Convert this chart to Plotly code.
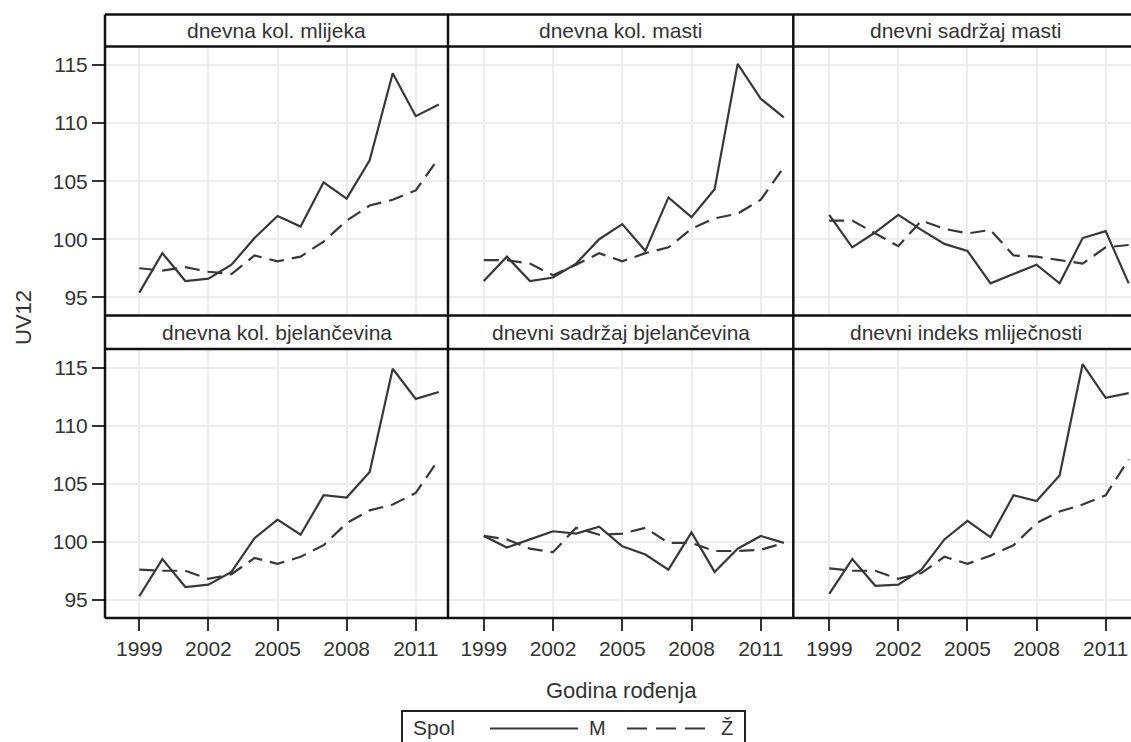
import plotly.graph_objects as go

# ---------------- data ----------------
years = list(range(1999, 2013))
panel_titles = [
    "dnevna kol. mlijeka", "dnevna kol. masti", "dnevni sadržaj masti",
    "dnevna kol. bjelančevina", "dnevni sadržaj bjelančevina", "dnevni indeks mliječnosti",
]
series_names = ["M", "Ž"]

m_kol_mlijeka = [95.4, 98.8, 96.4, 96.6, 97.8, 100.1, 102.0, 101.1, 104.9, 103.5, 106.8, 114.3, 110.6, 111.6]
z_kol_mlijeka = [97.5, 97.3, 97.6, 97.2, 97.0, 98.6, 98.1, 98.5, 99.8, 101.6, 102.9, 103.4, 104.2, 107.0]

m_kol_masti = [96.4, 98.5, 96.4, 96.7, 97.9, 100.0, 101.3, 99.0, 103.6, 101.9, 104.3, 115.1, 112.1, 110.5]
z_kol_masti = [98.2, 98.2, 97.9, 96.9, 97.8, 98.8, 98.1, 98.8, 99.3, 100.9, 101.8, 102.2, 103.4, 106.2]

m_sadrzaj_masti = [102.1, 99.3, 100.6, 102.1, 100.8, 99.6, 99.0, 96.2, 97.0, 97.8, 96.2, 100.1, 100.7, 96.2]
z_sadrzaj_masti = [101.6, 101.6, 100.5, 99.4, 101.6, 100.9, 100.5, 100.8, 98.6, 98.5, 98.2, 97.9, 99.3, 99.5]

m_kol_bjel = [95.3, 98.5, 96.1, 96.3, 97.4, 100.3, 101.9, 100.6, 104.0, 103.8, 106.0, 114.9, 112.3, 112.9]
z_kol_bjel = [97.6, 97.5, 97.5, 96.8, 97.2, 98.6, 98.1, 98.7, 99.7, 101.6, 102.7, 103.2, 104.2, 107.1]

m_sadrzaj_bjel = [100.5, 99.5, 100.2, 100.9, 100.7, 101.3, 99.6, 98.9, 97.6, 100.8, 97.4, 99.4, 100.5, 99.9]
z_sadrzaj_bjel = [100.5, 100.2, 99.4, 99.1, 101.2, 100.6, 100.7, 101.2, 99.9, 99.9, 99.2, 99.2, 99.3, 99.9]

m_indeks = [95.5, 98.5, 96.2, 96.3, 97.6, 100.2, 101.8, 100.4, 104.0, 103.5, 105.7, 115.3, 112.4, 112.8]
z_indeks = [97.7, 97.5, 97.5, 96.8, 97.3, 98.7, 98.1, 98.8, 99.7, 101.6, 102.6, 103.2, 104.0, 107.1]

m_series = [m_kol_mlijeka, m_kol_masti, m_sadrzaj_masti, m_kol_bjel, m_sadrzaj_bjel, m_indeks]
z_series = [z_kol_mlijeka, z_kol_masti, z_sadrzaj_masti, z_kol_bjel, z_sadrzaj_bjel, z_indeks]

x_tick_vals = [1999, 2002, 2005, 2008, 2011]
y_tick_vals = [95, 100, 105, 110, 115]

x_title = "Godina rođenja"
y_title = "UV12"
legend_title = "Spol"

# ---------------- layout geometry (pixels) ----------------
W, H = 1131, 742
def px(x):
    return x / W
def py(y):
    return 1 - y / H

col_px = [(105, 448), (448, 793.3), (793.3, 1131)]
col_full_right = [448, 793.3, 1138]           # third panel is cropped at image edge
x_ranges = [[1997.51, 2012.40], [1997.45, 2012.41], [1997.44, 2012.10]]
head_px = [(14.5, 46.5), (315.5, 349)]
plot_px = [(46.5, 315.5), (349, 618)]
y_range = [93.43, 116.6]

FONT = "Liberation Sans, Arial, sans-serif"
TXT = "#333333"
LINE = "#383838"

fig = go.Figure()
layout = dict(
    width=W, height=H, margin=dict(l=0, r=0, t=0, b=0),
    paper_bgcolor="white", plot_bgcolor="white", showlegend=False,
    font=dict(family=FONT, size=21, color=TXT),
)

annotations = []
shapes = []

for i in range(6):
    r, c = divmod(i, 3)
    sfx = "" if i == 0 else str(i + 1)
    xa = dict(
        domain=[px(col_px[c][0]), px(col_px[c][1])], range=x_ranges[c],
        anchor="y" + sfx, showline=False, zeroline=False,
        showgrid=True, gridcolor="#ececec", gridwidth=2,
        tickvals=x_tick_vals, ticktext=[str(v) for v in x_tick_vals],
        ticks="outside" if r == 1 else "", ticklen=12, tickwidth=2, tickcolor="#333333",
        showticklabels=(r == 1), tickfont=dict(size=21, color=TXT, family=FONT),
        fixedrange=True,
    )
    ya = dict(
        domain=[py(plot_px[r][1]), py(plot_px[r][0])], range=y_range,
        anchor="x" + sfx, showline=False, zeroline=False,
        showgrid=True, gridcolor="#ececec", gridwidth=2,
        tickvals=y_tick_vals, ticktext=[str(v) for v in y_tick_vals],
        ticks="outside" if c == 0 else "", ticklen=12, tickwidth=2, tickcolor="#333333",
        showticklabels=(c == 0), tickfont=dict(size=21, color=TXT, family=FONT),
        fixedrange=True,
    )
    layout["xaxis" + sfx] = xa
    layout["yaxis" + sfx] = ya

    fig.add_trace(go.Scatter(
        x=years, y=m_series[i], mode="lines", name=series_names[0],
        line=dict(color=LINE, width=2.2), xaxis="x" + sfx, yaxis="y" + sfx,
    ))
    fig.add_trace(go.Scatter(
        x=years, y=z_series[i], mode="lines", name=series_names[1],
        line=dict(color=LINE, width=2.2, dash="15px,8px"), xaxis="x" + sfx, yaxis="y" + sfx,
    ))

    # header strip title
    cx = (col_px[c][0] + col_full_right[c]) / 2
    cy = (head_px[r][0] + head_px[r][1]) / 2
    annotations.append(dict(
        text=panel_titles[i], x=px(cx), y=py(cy), xref="paper", yref="paper",
        xanchor="center", yanchor="middle", showarrow=False,
        font=dict(size=21, color=TXT, family=FONT),
    ))

# borders
BL = dict(color="#111111", width=2.5)
for yy in [14.5, 46.5, 315.5, 349, 618]:
    shapes.append(dict(type="line", xref="paper", yref="paper",
                       x0=px(105), x1=px(1140), y0=py(yy), y1=py(yy), line=BL))
for xx in [105, 448, 793.3]:
    shapes.append(dict(type="line", xref="paper", yref="paper",
                       x0=px(xx), x1=px(xx), y0=py(14.5), y1=py(618), line=BL))

# axis titles
annotations.append(dict(text=x_title, x=px(621), y=py(690), xref="paper", yref="paper",
                        xanchor="center", yanchor="middle", showarrow=False,
                        font=dict(size=22, color=TXT, family=FONT)))
annotations.append(dict(text=y_title, x=px(23), y=py(318), xref="paper", yref="paper",
                        xanchor="center", yanchor="middle", showarrow=False, textangle=-90,
                        font=dict(size=22, color=TXT, family=FONT)))

# legend (drawn manually, cropped at bottom like the reference)
shapes.append(dict(type="rect", xref="paper", yref="paper",
                   x0=px(402), x1=px(745), y0=py(765), y1=py(711),
                   line=dict(color="#222222", width=2), fillcolor="rgba(0,0,0,0)"))
ly = 727.5
annotations.append(dict(text=legend_title, x=px(411), y=py(ly), xref="paper", yref="paper",
                        xanchor="left", yanchor="middle", showarrow=False,
                        font=dict(size=21, color=TXT, family=FONT)))
shapes.append(dict(type="line", xref="paper", yref="paper", x0=px(490), x1=px(578),
                   y0=py(ly + 1), y1=py(ly + 1), line=dict(color=LINE, width=2)))
annotations.append(dict(text=series_names[0], x=px(597), y=py(ly), xref="paper", yref="paper",
                        xanchor="center", yanchor="middle", showarrow=False,
                        font=dict(size=20, color=TXT, family=FONT)))
shapes.append(dict(type="line", xref="paper", yref="paper", x0=px(627), x1=px(705),
                   y0=py(ly + 1), y1=py(ly + 1), line=dict(color=LINE, width=2, dash="20px,9px")))
annotations.append(dict(text=series_names[1], x=px(727), y=py(ly), xref="paper", yref="paper",
                        xanchor="center", yanchor="middle", showarrow=False,
                        font=dict(size=20, color=TXT, family=FONT)))

layout["annotations"] = annotations
layout["shapes"] = shapes
fig.update_layout(**layout)

fig.write_html("out.html", include_plotlyjs=True, config={"displayModeBar": False})

# remove the browser's default page margin so the figure sits at (0, 0)
with open("out.html", "r", encoding="utf-8") as f:
    html = f.read()
html = html.replace("<head>", "<head><style>html,body{margin:0;padding:0;overflow:hidden;}</style>", 1)
with open("out.html", "w", encoding="utf-8") as f:
    f.write(html)
